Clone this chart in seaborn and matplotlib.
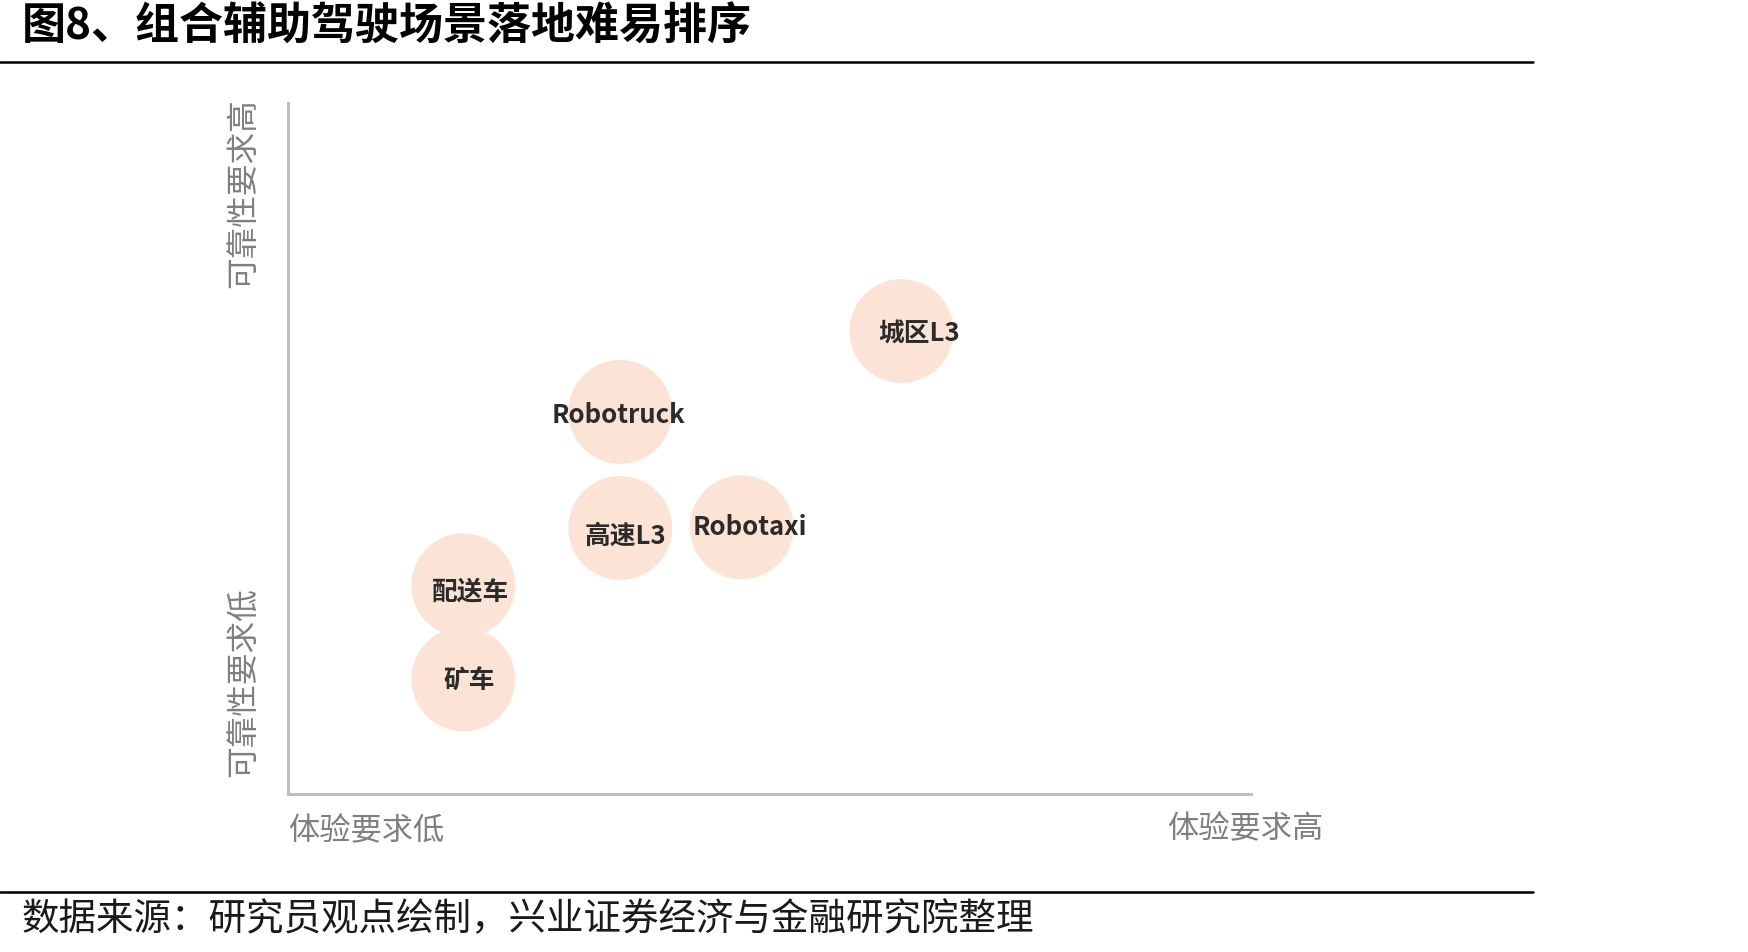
import matplotlib
matplotlib.use("Agg")
import matplotlib.pyplot as plt
from matplotlib.lines import Line2D
import seaborn as sns
import pandas as pd

# ---- data ----
scenes = ["城区L3", "Robotruck", "高速L3", "Robotaxi", "配送车", "矿车"]
experience = [6.37, 3.45, 3.45, 4.71, 1.82, 1.82]   # 体验要求 (x)
reliability = [6.70, 5.53, 3.85, 3.86, 3.02, 1.66]  # 可靠性要求 (y)

title = "图8、组合辅助驾驶场景落地难易排序"
source = "数据来源：研究员观点绘制，兴业证券经济与金融研究院整理"
x_low, x_high = "体验要求低", "体验要求高"
y_low, y_high = "可靠性要求低", "可靠性要求高"

# ---- style ----
sns.set_theme(style="white")
plt.rcParams['font.family'] = ['Noto Sans CJK SC', 'DejaVu Sans']

W, H = 1748, 952
fig = plt.figure(figsize=(W / 100, H / 100), dpi=100)
ax = fig.add_axes([288 / W, 1 - 794 / H, (1251 - 288) / W, (794 - 103) / H])

df = pd.DataFrame({"scene": scenes, "x": experience, "y": reliability})
sns.scatterplot(data=df, x="x", y="y", s=5600, color="#FBE4D5",
                edgecolor="none", linewidth=0, ax=ax, legend=False, zorder=2)

label_dx = [0.18, -0.02, 0.05, 0.09, 0.08, 0.06]
label_dy = [-0.05, -0.05, -0.12, 0.0, -0.10, -0.03]
for name, xv, yv, dx, dy in zip(scenes, experience, reliability, label_dx, label_dy):
    ax.text(xv + dx, yv + dy, name, ha="center", va="center", fontsize=18.5,
            fontweight="bold", color="#2b2b2b", zorder=3)

ax.set_xlim(0, 10)
ax.set_ylim(0, 10)
ax.set_xticks([])
ax.set_yticks([])
ax.set_xlabel("")
ax.set_ylabel("")
for side in ["top", "right"]:
    ax.spines[side].set_visible(False)
for side in ["left", "bottom"]:
    ax.spines[side].set_color("#BFBFBF")
    ax.spines[side].set_linewidth(2.2)

gray = "#7F7F7F"
fig.text(288 / W, 1 - 831 / H, x_low, ha="left", va="center", fontsize=22.5, color=gray)
fig.text(1323 / W, 1 - 829 / H, x_high, ha="right", va="center", fontsize=22.5, color=gray)
fig.text(243 / W, 1 - 98 / H, y_high, ha="center", va="top", rotation=90,
         fontsize=22.8, color=gray)
fig.text(243 / W, 1 - 777 / H, y_low, ha="center", va="bottom", rotation=90,
         fontsize=22.8, color=gray)

fig.text(22 / W, 1 - 27 / H, title, ha="left", va="center", fontsize=31.7,
         fontweight="bold", color="black")
fig.text(22 / W, 1 - 920 / H, source, ha="left", va="center", fontsize=27,
         color="#1a1a1a")

fig.add_artist(Line2D([0, 1533 / W], [1 - 62 / H, 1 - 62 / H], color="black",
                      linewidth=1.8, transform=fig.transFigure))
fig.add_artist(Line2D([0, 1533 / W], [1 - 892 / H, 1 - 892 / H], color="black",
                      linewidth=1.8, transform=fig.transFigure))

fig.savefig("out.png", dpi=100, facecolor="white")
